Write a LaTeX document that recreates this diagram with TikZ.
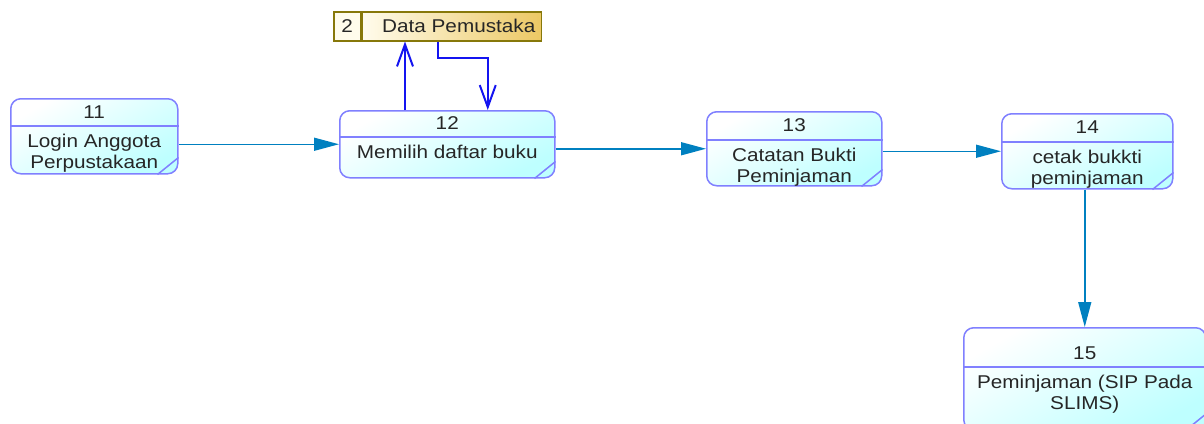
\documentclass[tikz,border=0pt]{standalone}
\usepackage{fontspec}
\setmainfont{Liberation Sans}[FakeStretch=1.12]
\usetikzlibrary{positioning,arrows.meta}

\definecolor{procborder}{RGB}{128,128,255}
\definecolor{procfill}{RGB}{190,255,255}
\definecolor{flowblue}{RGB}{0,128,192}
\definecolor{storeborder}{RGB}{135,120,10}
\definecolor{storegold}{RGB}{236,200,100}
\definecolor{storecream}{RGB}{255,252,236}
\definecolor{accessblue}{RGB}{20,20,240}

\begin{document}
\begin{tikzpicture}[x=1pt, y=-1pt,
    proc/.style={draw=procborder, line width=1.5pt, rounded corners=10pt,
      top color=white, bottom color=procfill, shading angle=30, anchor=north west, inner sep=0pt},
    procline/.style={draw=procborder, line width=1.5pt},
    txt/.style={font=\fontsize{18.5}{20.5}\selectfont, inner sep=0pt, align=center, text=black!85},
    flow/.style={draw=flowblue, line width=1.5pt, -{Triangle[length=25pt,width=13pt]}},
    access/.style={draw=accessblue, line width=2pt,
      -{Straight Barb[length=22pt,width=16pt,line width=2pt]}},
    storebox/.style={draw=storeborder, line width=1.5pt, minimum height=29pt, inner sep=0pt}]
  \useasboundingbox (0,0) rectangle (1204,423);

  % processes
  \node[proc, minimum width=167pt, minimum height=75pt] (p11) at (10,98) {};
  \draw[procline] ([yshift=-28pt]p11.north west) -- ([yshift=-28pt]p11.north east);
  \draw[procline] ([yshift=17pt]p11.south east) -- ([xshift=-21pt]p11.south east);
  \node[txt] (p11num) at ([yshift=-14pt]p11.north) {11};
  \node[txt, anchor=north] (p11text) at ([yshift=-36pt]p11.north) {Login Anggota\\Perpustakaan};

  \node[proc, minimum width=215pt, minimum height=67pt] (p12) at (339,110) {};
  \draw[procline] ([yshift=-27pt]p12.north west) -- ([yshift=-27pt]p12.north east);
  \draw[procline] ([yshift=17pt]p12.south east) -- ([xshift=-21pt]p12.south east);
  \node[txt] (p12num) at ([yshift=-13.5pt]p12.north) {12};
  \node[txt, anchor=north] (p12text) at ([yshift=-35pt]p12.north) {Memilih daftar buku};

  \node[proc, minimum width=175pt, minimum height=74pt] (p13) at (706,111) {};
  \draw[procline] ([yshift=-29pt]p13.north west) -- ([yshift=-29pt]p13.north east);
  \draw[procline] ([yshift=17pt]p13.south east) -- ([xshift=-21pt]p13.south east);
  \node[txt] (p13num) at ([yshift=-14.5pt]p13.north) {13};
  \node[txt, anchor=north] (p13text) at ([yshift=-37pt]p13.north) {Catatan Bukti\\Peminjaman};

  \node[proc, minimum width=171pt, minimum height=75pt] (p14) at (1001,113) {};
  \draw[procline] ([yshift=-29pt]p14.north west) -- ([yshift=-29pt]p14.north east);
  \draw[procline] ([yshift=17pt]p14.south east) -- ([xshift=-21pt]p14.south east);
  \node[txt] (p14num) at ([yshift=-14.5pt]p14.north) {14};
  \node[txt, anchor=north] (p14text) at ([yshift=-37pt]p14.north) {cetak bukkti\\peminjaman};

  \node[proc, minimum width=242pt, minimum height=102pt] (p15) at (963,327) {};
  \draw[procline] ([yshift=-40pt]p15.north west) -- ([yshift=-40pt]p15.north east);
  \draw[procline] ([yshift=17pt]p15.south east) -- ([xshift=-21pt]p15.south east);
  \node[txt] (p15num) at ([yshift=-26pt]p15.north) {15};
  \node[txt, anchor=north] (p15text) at ([yshift=-48pt]p15.north) {Peminjaman (SIP Pada\\SLIMS)};

  % data store
  \node[storebox, fill=storecream, minimum width=27pt, anchor=north west] (storenum) at (333,11) {};
  \node[storebox, left color=storecream, right color=storegold, minimum width=179pt,
    right=0pt of storenum] (store) {};
  \node[txt] (storenumtext) at (storenum) {2};
  \node[txt] (storetitle) at ([xshift=7pt]store) {Data Pemustaka};

  % flows
  \draw[flow] (p11.east |- p12.west) -- (p12.west);
  \draw[flow] (p12.east |- p13.west) -- (p13.west);
  \draw[flow] (p13.east |- p14.west) -- (p14.west);
  \draw[flow] (p14.south -| p15.north) -- (p15.north);
  \draw[access] ([xshift=66pt]p12.north west) -- ([xshift=66pt]p12.north west |- store.south);
  \draw[access] ([xshift=-13.5pt]store.south) -- ++(0,16) -| ([xshift=40.5pt]p12.north);
\end{tikzpicture}
\end{document}
